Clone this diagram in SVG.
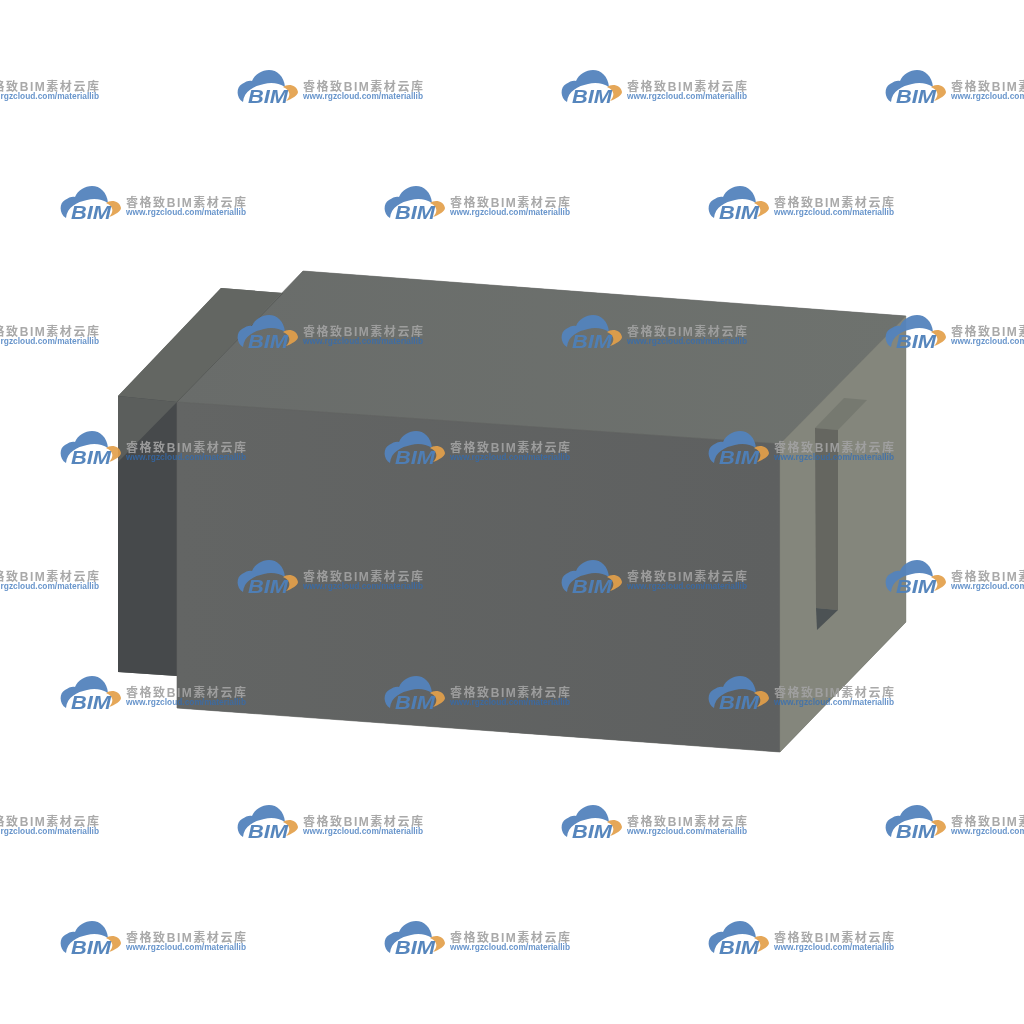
<svg xmlns="http://www.w3.org/2000/svg" xmlns:xlink="http://www.w3.org/1999/xlink" width="1024" height="1024" viewBox="0 0 1024 1024">
<style>
.cloud{fill:#5283bd;opacity:.95}
.swoosh{fill:#e3a04a;opacity:.92}
.bim{font:italic 700 18px "Liberation Sans",Arial,sans-serif;fill:#4f80ba;opacity:.95}
.cn{font:700 12px "Liberation Sans","Noto Sans CJK SC",sans-serif;fill:#a2a2a2;opacity:.92}
.url{font:700 8.5px "Liberation Sans",Arial,sans-serif;fill:#2f6db8;opacity:.72}
</style>
<defs>
<filter id="soft" x="-2%" y="-2%" width="104%" height="104%"><feGaussianBlur stdDeviation="0.3"/></filter>
<linearGradient id="front" x1="0" y1="0" x2="1" y2="0"><stop offset="0" stop-color="#636564"/><stop offset="1" stop-color="#5e6060"/></linearGradient>
<linearGradient id="top" x1="0" y1="0" x2="1" y2="0"><stop offset="0" stop-color="#696c6a"/><stop offset="1" stop-color="#6e726e"/></linearGradient>
<g id="wm">
<path class="cloud" d="M243,102C236,98 236,87 242,84C246,81 250,80 252,81C255,74 262,70 269,70C277,70 284,76 285,87C279,83 271,82 264,84C254,86 244,91 243,102Z"/>
<path class="swoosh" d="M283,87C288,83 297,85 298,92C298,95 292,99 286,101C290,97 292,91 283,87Z"/>
<text class="bim" x="248" y="103" textLength="40" lengthAdjust="spacingAndGlyphs">BIM</text>
<text class="cn" x="303" y="91" textLength="120">睿格致BIM素材云库</text>
<text class="url" x="303" y="98.5" textLength="120" lengthAdjust="spacingAndGlyphs">www.rgzcloud.com/materiallib</text>
</g>
</defs>
<rect width="1024" height="1024" fill="#fff"/>
<g id="block">
<polygon points="118,396 221,288 283,293 303,271 906,316 906,622 780,752 177,708 177,676 118,672" fill="#656866"/>
<polygon points="118,396 221,288 283,293 177,402" fill="#636662"/>
<polygon points="118,396 177,402 177,676 118,672" fill="#46494b"/>
<polygon points="118,396 177,402 118,462" fill="#5b5e5c"/>
<polygon points="177,402 303,271 906,316 780,444" fill="url(#top)" stroke="#696c6a" stroke-width=".6"/>
<polygon points="177,402 780,444 780,752 177,708" fill="url(#front)" stroke="#616362" stroke-width=".6"/>
<polygon points="780,444 906,316 906,622 780,752" fill="#84867c" stroke="#7c7e75" stroke-width=".4"/>
<polygon points="815,428 844,398 867,400 838,430" fill="#767970"/>
<polygon points="815,428 838,430 838,610 816,608" fill="#656660"/>
<polygon points="816,608 838,610 817,630" fill="#4c5254"/>
<path d="M283,293L177,402" stroke="#585b58" stroke-width="1" fill="none"/>
</g>
<g id="watermarks" filter="url(#soft)">
<use href="#wm" x="-324" y="0"/><use href="#wm" x="0" y="0"/><use href="#wm" x="324" y="0"/><use href="#wm" x="648" y="0"/>
<use href="#wm" x="-177" y="116"/><use href="#wm" x="147" y="116"/><use href="#wm" x="471" y="116"/>
<use href="#wm" x="-324" y="245"/><use href="#wm" x="0" y="245"/><use href="#wm" x="324" y="245"/><use href="#wm" x="648" y="245"/>
<use href="#wm" x="-177" y="361"/><use href="#wm" x="147" y="361"/><use href="#wm" x="471" y="361"/>
<use href="#wm" x="-324" y="490"/><use href="#wm" x="0" y="490"/><use href="#wm" x="324" y="490"/><use href="#wm" x="648" y="490"/>
<use href="#wm" x="-177" y="606"/><use href="#wm" x="147" y="606"/><use href="#wm" x="471" y="606"/>
<use href="#wm" x="-324" y="735"/><use href="#wm" x="0" y="735"/><use href="#wm" x="324" y="735"/><use href="#wm" x="648" y="735"/>
<use href="#wm" x="-177" y="851"/><use href="#wm" x="147" y="851"/><use href="#wm" x="471" y="851"/>
</g>
</svg>
